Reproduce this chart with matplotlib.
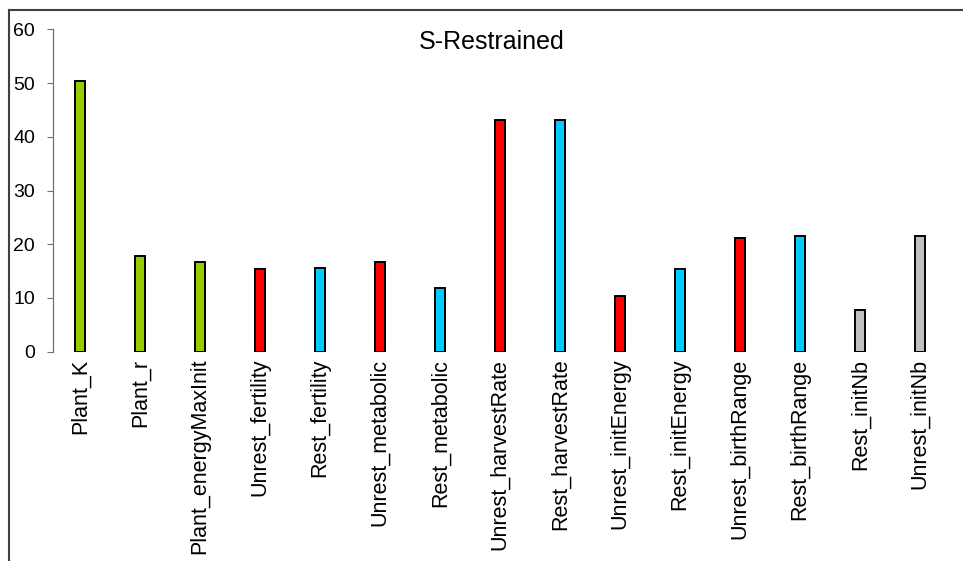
import matplotlib
matplotlib.use("Agg")
import matplotlib.pyplot as plt
from matplotlib.lines import Line2D

labels = [
    "Plant_K", "Plant_r", "Plant_energyMaxInit", "Unrest_fertility",
    "Rest_fertility", "Unrest_metabolic", "Rest_metabolic",
    "Unrest_harvestRate", "Rest_harvestRate", "Unrest_initEnergy",
    "Rest_initEnergy", "Unrest_birthRange", "Rest_birthRange",
    "Rest_initNb", "Unrest_initNb",
]
values = [50.3, 17.8, 16.7, 15.3, 15.6, 16.7, 11.9, 43.2, 43.2, 10.4,
          15.3, 21.2, 21.6, 7.8, 21.6]
groups = ["plant", "plant", "plant", "unrest", "rest", "unrest", "rest",
          "unrest", "rest", "unrest", "rest", "unrest", "rest", "init", "init"]
yticks = [0, 10, 20, 30, 40, 50, 60]

palette = {"plant": "#99CC00", "unrest": "#FF0000", "rest": "#00CCFF", "init": "#C0C0C0"}


def main():
    plt.rcParams["font.family"] = ["Liberation Sans", "DejaVu Sans"]
    W, H = 963, 561
    fig = plt.figure(figsize=(W / 100, H / 100), dpi=100)
    ax = fig.add_axes([53 / W, 1 - 351.7 / H, (950 - 53) / W, (351.7 - 29.3) / H])

    colors = [palette[g] for g in groups]
    ax.bar(range(len(values)), values, width=0.17, color=colors,
           edgecolor="black", linewidth=1.4, zorder=3)

    ax.set_xlim(-0.45, 14.5)
    ax.set_ylim(0, 60)
    ax.set_yticks(yticks)
    ax.set_xticks(range(len(labels)))
    ax.set_xticklabels(labels, rotation=90, fontsize=15.5, va="top")
    ax.tick_params(axis="x", length=0, pad=5)
    ax.tick_params(axis="y", direction="out", length=4.3, width=0.8,
                   color="#707070", labelsize=14, pad=8.5)

    for side in ["top", "right", "bottom"]:
        ax.spines[side].set_visible(False)
    ax.spines["left"].set_color("#707070")
    ax.spines["left"].set_linewidth(0.9)

    fig.text(491.5 / W, 1 - 41.7 / H, "S-Restrained", fontsize=18,
             ha="center", va="center")

    # chart-area border (cut off at right and bottom)
    fig.add_artist(Line2D([8.5 / W, 1.0], [1 - 10 / H, 1 - 10 / H],
                          transform=fig.transFigure, color="#404040", linewidth=1.5))
    fig.add_artist(Line2D([8.5 / W, 8.5 / W], [0.0, 1 - 10 / H],
                          transform=fig.transFigure, color="#404040", linewidth=1.5))

    fig.savefig("out.png", dpi=100)


if __name__ == "__main__":
    main()
